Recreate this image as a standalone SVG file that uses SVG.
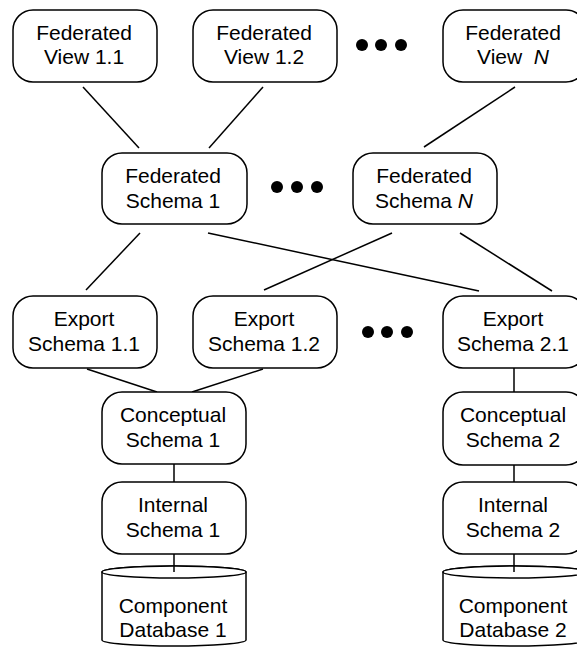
<svg xmlns="http://www.w3.org/2000/svg" width="577" height="647" viewBox="0 0 577 647">
<style>
  .box { fill: #fff; stroke: #000; stroke-width: 1.5; }
  .cyl { fill: #fff; stroke: #000; stroke-width: 1.5; }
  .lbl { font-family: "Liberation Sans", Arial, sans-serif; font-size: 21px; fill: #000; text-anchor: middle; }
  .it { font-style: italic; }
  .conn line { stroke: #000; stroke-width: 1.5; }
  .dot { fill: #000; }
</style>
<rect width="577" height="647" fill="#fff"/>

<g id="connectors" class="conn">
  <line x1="83" y1="87" x2="139" y2="148"/>
  <line x1="263" y1="87" x2="209" y2="148"/>
  <line x1="515" y1="87" x2="424" y2="147"/>
  <line x1="140" y1="233" x2="86" y2="290"/>
  <line x1="208" y1="233" x2="479" y2="291"/>
  <line x1="392" y1="233" x2="264" y2="290"/>
  <line x1="460" y1="233" x2="552" y2="291"/>
  <line x1="87" y1="369" x2="157" y2="392"/>
  <line x1="263" y1="369" x2="192" y2="392"/>
  <line x1="514" y1="368" x2="514" y2="392"/>
  <line x1="174" y1="464" x2="174" y2="482"/>
  <line x1="514" y1="465" x2="514" y2="482"/>
</g>

<g id="fv11">
  <rect class="box" x="13" y="10" width="144" height="72" rx="20" ry="20"/>
  <text class="lbl" x="84" y="40">Federated</text>
  <text class="lbl" x="84" y="64">View 1.1</text>
</g>
<g id="fv12">
  <rect class="box" x="193" y="10" width="144" height="72" rx="20" ry="20"/>
  <text class="lbl" x="264" y="40">Federated</text>
  <text class="lbl" x="264" y="64">View 1.2</text>
</g>
<g id="dots1">
  <circle class="dot" cx="362" cy="45" r="6"/>
  <circle class="dot" cx="381" cy="45" r="6"/>
  <circle class="dot" cx="401" cy="45" r="6"/>
</g>
<g id="fvN">
  <rect class="box" x="443" y="10" width="143" height="72" rx="20" ry="20"/>
  <text class="lbl" x="513" y="40">Federated</text>
  <text class="lbl" x="513" y="64" xml:space="preserve">View  <tspan class="it">N</tspan></text>
</g>

<g id="fs1">
  <rect class="box" x="102" y="153" width="145" height="71" rx="20" ry="20"/>
  <text class="lbl" x="173" y="183">Federated</text>
  <text class="lbl" x="173" y="208">Schema 1</text>
</g>
<g id="dots2">
  <circle class="dot" cx="277" cy="187" r="6"/>
  <circle class="dot" cx="297" cy="187" r="6"/>
  <circle class="dot" cx="317" cy="187" r="6"/>
</g>
<g id="fsN">
  <rect class="box" x="353" y="153" width="144" height="71" rx="20" ry="20"/>
  <text class="lbl" x="424" y="183">Federated</text>
  <text class="lbl" x="424" y="208">Schema <tspan class="it">N</tspan></text>
</g>

<g id="es11">
  <rect class="box" x="13" y="296" width="144" height="72" rx="20" ry="20"/>
  <text class="lbl" x="84" y="326">Export</text>
  <text class="lbl" x="84" y="351">Schema 1.1</text>
</g>
<g id="es12">
  <rect class="box" x="193" y="296" width="144" height="72" rx="20" ry="20"/>
  <text class="lbl" x="264" y="326">Export</text>
  <text class="lbl" x="264" y="351">Schema 1.2</text>
</g>
<g id="dots3">
  <circle class="dot" cx="368" cy="332" r="6"/>
  <circle class="dot" cx="387" cy="332" r="6"/>
  <circle class="dot" cx="407" cy="332" r="6"/>
</g>
<g id="es21">
  <rect class="box" x="443" y="296" width="143" height="72" rx="20" ry="20"/>
  <text class="lbl" x="513" y="326">Export</text>
  <text class="lbl" x="513" y="351">Schema 2.1</text>
</g>

<g id="cs1">
  <rect class="box" x="102" y="392" width="144" height="72" rx="20" ry="20"/>
  <text class="lbl" x="173" y="422">Conceptual</text>
  <text class="lbl" x="173" y="447">Schema 1</text>
</g>
<g id="cs2">
  <rect class="box" x="443" y="392" width="143" height="73" rx="20" ry="20"/>
  <text class="lbl" x="513" y="422">Conceptual</text>
  <text class="lbl" x="513" y="447">Schema 2</text>
</g>

<g id="is1">
  <rect class="box" x="102" y="482" width="144" height="72" rx="20" ry="20"/>
  <text class="lbl" x="173" y="512">Internal</text>
  <text class="lbl" x="173" y="537">Schema 1</text>
</g>
<g id="is2">
  <rect class="box" x="443" y="482" width="143" height="72" rx="20" ry="20"/>
  <text class="lbl" x="513" y="512">Internal</text>
  <text class="lbl" x="513" y="537">Schema 2</text>
</g>

<g id="db1">
  <path class="cyl" d="M102,572 L102,640 A72,6 0 0 0 246,640 L246,572 A72,6 0 0 0 102,572 Z"/>
  <ellipse class="cyl" cx="174" cy="572" rx="72" ry="6"/>
  <line x1="174" y1="554" x2="174" y2="572" stroke="#000" stroke-width="1.5"/>
  <text class="lbl" x="173" y="613">Component</text>
  <text class="lbl" x="173" y="637">Database 1</text>
</g>
<g id="db2">
  <path class="cyl" d="M443,572 L443,640 A71.5,6 0 0 0 586,640 L586,572 A71.5,6 0 0 0 443,572 Z"/>
  <ellipse class="cyl" cx="514.5" cy="572" rx="71.5" ry="6"/>
  <line x1="514" y1="554" x2="514" y2="572" stroke="#000" stroke-width="1.5"/>
  <text class="lbl" x="513" y="613">Component</text>
  <text class="lbl" x="513" y="637">Database 2</text>
</g>
</svg>
